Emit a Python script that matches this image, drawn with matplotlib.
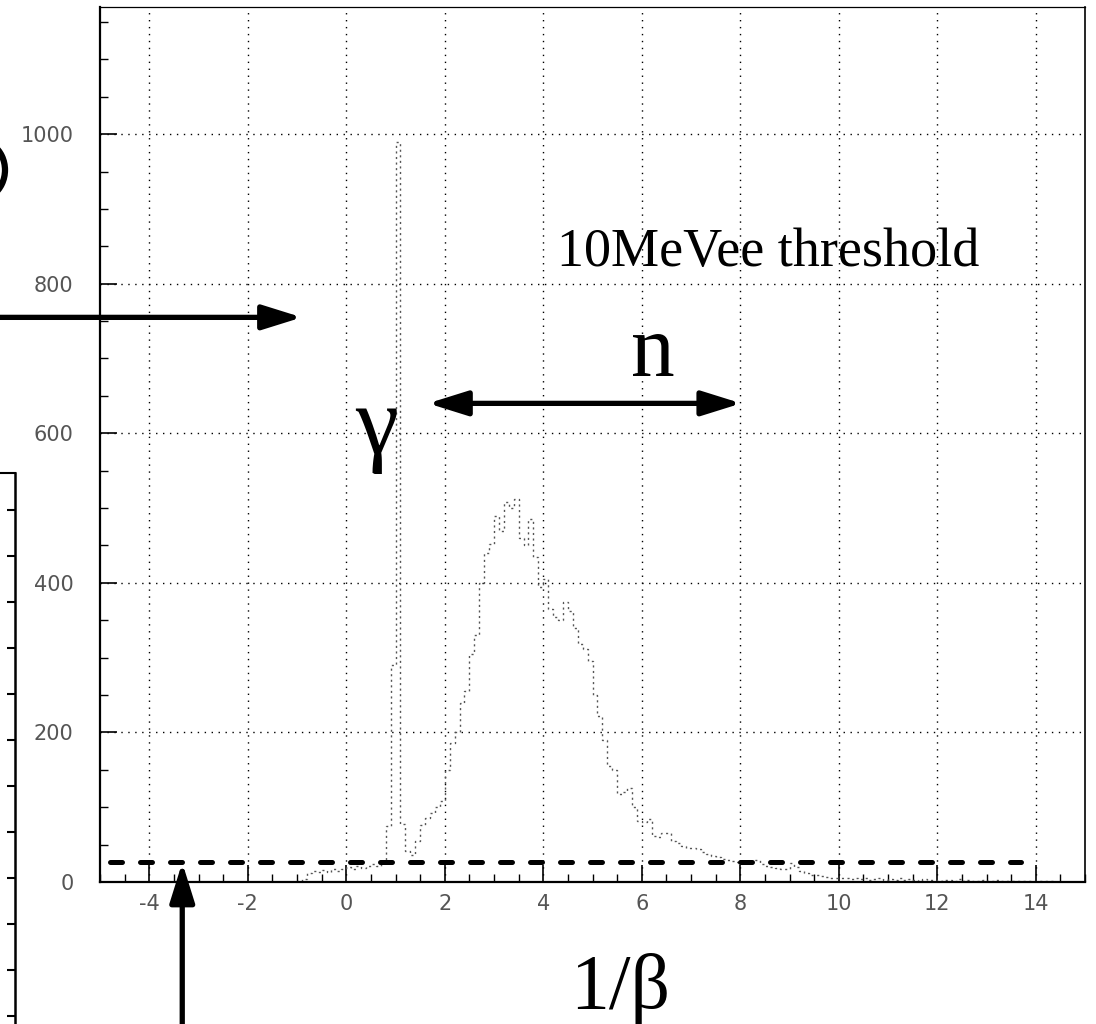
import numpy as np
import matplotlib
matplotlib.use('Agg')
import matplotlib.pyplot as plt
from matplotlib.ticker import MultipleLocator, FixedLocator
from matplotlib.patches import Arc

# ---------------- data ----------------
bin_start = -1.0
bin_width = 0.1
counts = [
    2, 4, 12, 15, 14, 16, 13, 17, 15, 18,          # -1 .. 0
    20, 18, 22, 19, 22, 24, 21, 26, 75, 290,       # 0 .. 1
    990, 78, 42, 36, 55, 76, 86, 92, 100, 108,     # 1 .. 2
    150, 186, 200, 240, 256, 305, 330, 400, 440, 452,  # 2 .. 3
    490, 470, 508, 500, 512, 460, 450, 485, 435, 395,  # 3 .. 4
    405, 365, 355, 350, 375, 362, 340, 318, 312, 295,  # 4 .. 5
    250, 222, 190, 155, 150, 118, 120, 126, 100, 82,   # 5 .. 6
    80, 84, 62, 60, 65, 66, 55, 52, 48, 46,        # 6 .. 7
    45, 44, 40, 38, 35, 33, 31, 30, 28, 27,        # 7 .. 8
    26, 25, 28, 30, 24, 22, 20, 19, 18, 17,        # 8 .. 9
    25, 20, 15, 12, 10, 9, 8, 7, 6, 6,             # 9 .. 10
    5, 5, 4, 6, 4, 5, 3, 4, 5, 3,                  # 10 .. 11
    4, 3, 5, 3, 4, 3, 2, 4, 3, 3,                  # 11 .. 12
    2, 3, 3, 2, 4, 2, 3, 2, 2, 3,                  # 12 .. 13
    2, 2, 3, 1, 2, 2, 1, 2, 2, 1,                  # 13 .. 14
    1, 2, 1, 1, 0,                                 # 14 .. 14.5
]
x_ticks = [-4, -2, 0, 2, 4, 6, 8, 10, 12, 14]
x_tick_labels = ['-4', '-2', '0', '2', '4', '6', '8', '10', '12', '14']
y_ticks = [0, 200, 400, 600, 800, 1000]
y_tick_labels = ['0', '200', '400', '600', '800', '1000']
threshold_level = 27
threshold_range = [-4.8, 13.7]
x_label = '1/\u03b2'
threshold_text = '10MeVee threshold'
gamma_text = '\u03b3'
neutron_text = 'n'

# annotation anchor points (data units)
gamma_pos = (0.62, 574)
neutron_pos = (6.22, 676)
text_pos = (4.28, 824)
h_arrow = ((-7.2, 755), (-0.9, 755))
n_arrow = ((1.66, 640), (8.02, 640))
up_arrow = ((-3.33, -200), (-3.33, 26))

edges = bin_start + bin_width * np.arange(len(counts) + 1)

# ---------------- figure ----------------
W, H = 1096, 1024
fig = plt.figure(figsize=(W / 100, H / 100), dpi=100)
fig.patch.set_facecolor('white')

ax = fig.add_axes([100 / W, 1 - 882 / H, 985 / W, 875 / H])
ax.set_xlim(-5, 15)
ax.set_ylim(0, 1170)

# histogram (faint, scanned look)
ax.stairs(counts, edges, color='#555555', lw=1.0, linestyle=(0, (1.5, 2.5)), zorder=2)

# grid / ticks
ax.set_xticks(x_ticks)
ax.set_xticklabels(x_tick_labels)
ax.set_yticks(y_ticks)
ax.set_yticklabels(y_tick_labels)
ax.xaxis.set_minor_locator(MultipleLocator(0.5))
ax.yaxis.set_minor_locator(MultipleLocator(50))
ax.grid(True, which='major', color='black', linestyle=(0, (1, 4)), lw=1.0, zorder=1)

for t in ax.get_xticklabels() + ax.get_yticklabels():
    t.set_fontfamily('DejaVu Sans')
    t.set_fontsize(15)
    t.set_color('#555555')

ax.tick_params(axis='x', which='major', direction='in', length=12, width=1.2, pad=9, top=False)
ax.tick_params(axis='x', which='minor', direction='in', length=6, width=1.0, top=False)
ax.tick_params(axis='y', which='major', direction='in', length=12, width=1.2, pad=19, right=False)
ax.tick_params(axis='y', which='minor', direction='in', length=6, width=1.0, right=False)

ax.spines['left'].set_linewidth(1.6)
ax.spines['bottom'].set_linewidth(1.6)
ax.spines['top'].set_linewidth(0.9)
ax.spines['right'].set_linewidth(1.2)

# threshold line
ax.plot(threshold_range, [threshold_level, threshold_level], color='black', lw=3.6,
        dashes=(2.4, 3.6), dash_capstyle='round', zorder=4)

# texts
serif = 'Liberation Serif'
ax.text(*text_pos, threshold_text, family=serif, fontsize=39, ha='left', va='baseline', zorder=5)
ax.text(*neutron_pos, neutron_text, family=serif, fontsize=63, ha='center', va='baseline', zorder=5)
ax.text(*gamma_pos, gamma_text, family=serif, fontsize=70, ha='center', va='baseline', zorder=5)
fig.text(620 / W, 1 - 1008 / H, x_label, family=serif, fontsize=56, ha='center', va='baseline')

# arrows
def arrow(tail, tip, style='-|>'):
    ax.annotate('', xy=tip, xytext=tail, xycoords='data', textcoords='data',
                annotation_clip=False,
                arrowprops=dict(arrowstyle=style + ',head_length=2.4,head_width=0.75',
                                lw=3.8, color='black', shrinkA=0, shrinkB=0,
                                mutation_scale=10), zorder=6)

arrow(*h_arrow)
arrow(*n_arrow, style='<|-|>')
arrow(*up_arrow)

# partial neighbouring frame at the left edge
axL = fig.add_axes([-0.2, -0.1, 0.2 + 15 / W, 0.1 + (1 - 473 / H)])
axL.patch.set_alpha(0)
for s in ['left', 'bottom']:
    axL.spines[s].set_visible(False)
axL.spines['right'].set_linewidth(1.8)
axL.spines['top'].set_linewidth(1.5)
hpx = (0.1 + (1 - 473 / H)) * H
axL.set_ylim(hpx, 0)
axL.set_xticks([])
axL.yaxis.tick_right()
axL.yaxis.set_major_locator(FixedLocator(np.arange(37, hpx, 46)))
axL.tick_params(axis='y', direction='in', length=6, width=1.5, labelright=False)

# cut-off curved stroke of a neighbouring glyph at the top-left edge
fig.add_artist(Arc((-22 / W, 1 - 170 / H), 54 / W, 60 / H, theta1=-60, theta2=60,
                   transform=fig.transFigure, lw=4.5, color='black'))

fig.savefig('out.png', dpi=100, facecolor='white')
